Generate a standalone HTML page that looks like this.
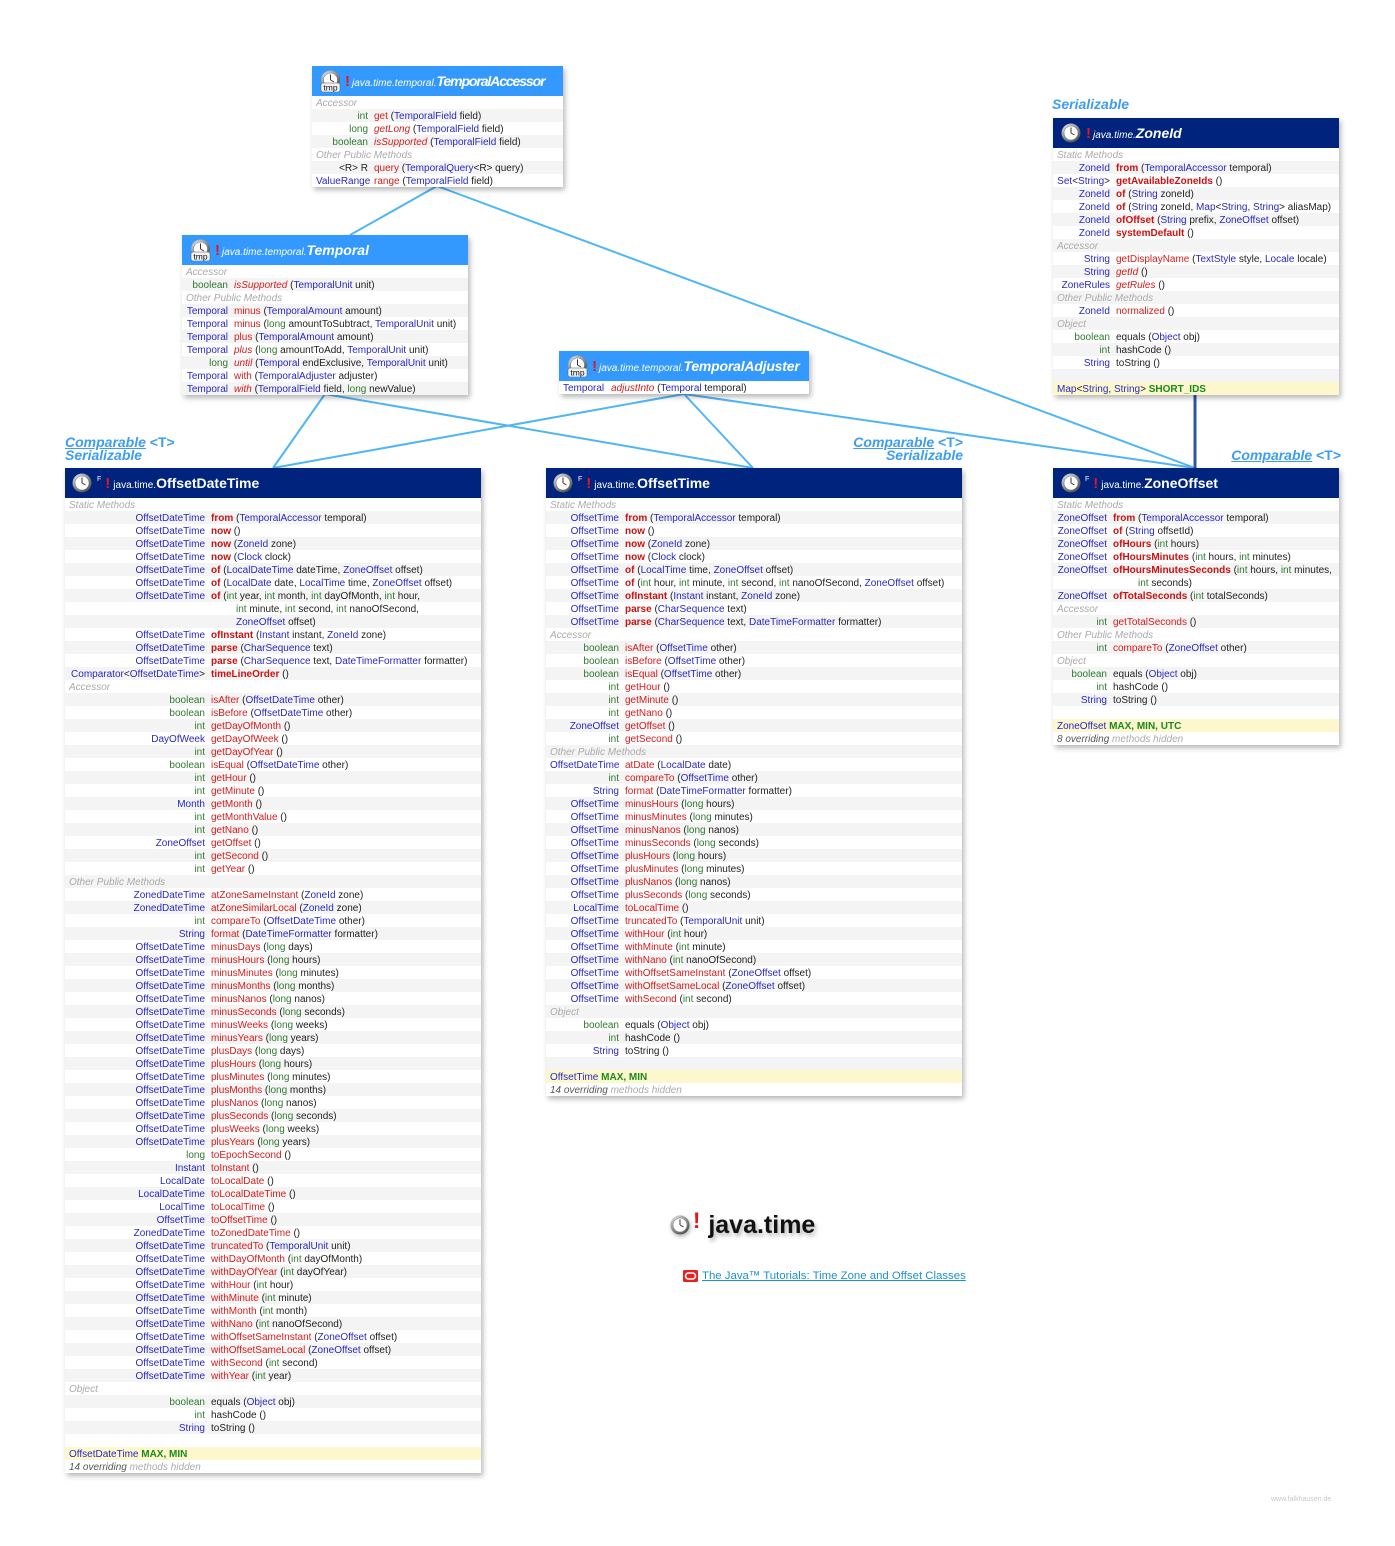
<!DOCTYPE html>
<html><head><meta charset="utf-8">
<style>
html,body{margin:0;padding:0;background:#fff;}
body{width:1395px;height:1546px;position:relative;overflow:hidden;font-family:"Liberation Sans",sans-serif;}
.box{position:absolute;background:#fff;box-shadow:2px 3px 5px rgba(0,0,0,.28);font-size:10px;color:#222;}
.hd{height:30px;display:flex;align-items:center;color:#fff;white-space:nowrap;}
.cls{background:#00247d;}
.itf{background:#3399ff;}
.ic{flex:none;display:block;}
.F{font-size:7px;align-self:flex-start;margin-top:8px;}
.ex{color:#e8141c;font-weight:bold;font-size:15px;}
.tx{display:flex;align-items:baseline;}
.pk{font-size:10px;}
.nm{font-size:14px;font-weight:bold;}
.itf .pk,.itf .nm,.ab .pk,.ab .nm{font-style:italic;}
.bd{background:repeating-linear-gradient(#fff 0 13px,#f4f4f4 13px 26px);}
.r,.l,.fl,.ov{height:13px;line-height:15px;white-space:nowrap;padding-left:4px;overflow:visible;}
.l{color:#aaa;font-style:italic;}
.fl{background:#fcf7cc;}
.ov{font-style:italic;color:#555;}
.ov span{color:#aaa;}
i,b{font-style:normal;font-weight:normal;}
i.t{display:inline-block;text-align:right;margin-right:6px;}
b.y{color:#2828c4;}
b.g{color:#2f7a2f;}
b.s{color:#cc1111;font-weight:bold;}
b.m{color:#d61b1b;}
b.a{color:#d61b1b;font-style:italic;}
b.fg{color:#1c8a1c;font-weight:bold;}
.lab{position:absolute;color:#3d9df0;font-size:14px;font-weight:bold;line-height:13px;white-space:nowrap;}
.lab u{font-style:italic;}
.lab em{font-style:italic;}
.lab span{font-style:normal;}
</style></head><body>
<svg width="0" height="0" style="position:absolute">
<defs>
<radialGradient id="cg" cx="35%" cy="30%" r="75%"><stop offset="0" stop-color="#f0f0f0"/><stop offset="0.6" stop-color="#9a9a9a"/><stop offset="1" stop-color="#4a4a4a"/></radialGradient>
</defs>
</svg>

<svg width="1395" height="1546" style="position:absolute;left:0;top:0">
<g stroke="#4fb6f5" stroke-width="2" fill="none">
<line x1="437" y1="186" x2="350" y2="235"/>
<line x1="437" y1="186" x2="1195" y2="468"/>
<line x1="325" y1="394" x2="273" y2="468"/>
<line x1="325" y1="394" x2="753" y2="468"/>
<line x1="684" y1="394" x2="273" y2="468"/>
<line x1="684" y1="394" x2="753" y2="468"/>
<line x1="684" y1="394" x2="1195" y2="468"/>
</g>
<line x1="1195" y1="394" x2="1195" y2="468" stroke="#2f56a6" stroke-width="3"/>
</svg>

<!-- labels -->
<div class="lab" style="left:1052px;top:98px;"><em>Serializable</em></div>
<div class="lab" style="left:65px;top:436px;"><u>Comparable</u> <span>&lt;T&gt;</span><br><em>Serializable</em></div>
<div class="lab" style="right:432px;top:436px;text-align:right;"><u>Comparable</u> <span>&lt;T&gt;</span><br><em>Serializable</em></div>
<div class="lab" style="right:54px;top:449px;text-align:right;"><u>Comparable</u> <span>&lt;T&gt;</span></div>

<!-- TemporalAccessor -->
<div class="box" style="left:312px;top:66px;width:251px;">
<div class="hd itf">
<svg class="ic" style="margin-left:8px" width="21" height="22" viewBox="0 0 21 22"><circle cx="10.5" cy="10" r="9.5" fill="url(#cg)"/><circle cx="10.5" cy="10" r="7" fill="#fff" stroke="#777" stroke-width=".6"/><path d="M10.5 10V4.5M10.5 10L14 12" stroke="#333" stroke-width="1"/><rect x="1" y="13" width="19" height="9" rx="2" fill="#f2f2f2" stroke="#555" stroke-width=".5"/><text x="10.5" y="20.5" font-size="8.5" font-family="Liberation Sans" text-anchor="middle" fill="#111">tmp</text></svg>
<span class="ex" style="margin-left:4px">!</span>
<span class="tx" style="margin-left:2px"><span class="pk">java.time.temporal.</span><span class="nm" style="letter-spacing:-1.1px">TemporalAccessor</span></span>
</div>
<div class="bd">
<div class="l">Accessor</div>
<div class="r"><i class="t" style="width:52px"><b class="g">int</b></i><b class="m">get</b> (<b class="y">TemporalField</b> field)</div>
<div class="r"><i class="t" style="width:52px"><b class="g">long</b></i><b class="a">getLong</b> (<b class="y">TemporalField</b> field)</div>
<div class="r"><i class="t" style="width:52px"><b class="g">boolean</b></i><b class="a">isSupported</b> (<b class="y">TemporalField</b> field)</div>
<div class="l">Other Public Methods</div>
<div class="r"><i class="t" style="width:52px">&lt;R&gt; R</i><b class="m">query</b> (<b class="y">TemporalQuery</b>&lt;R&gt; query)</div>
<div class="r"><i class="t" style="width:52px"><b class="y">ValueRange</b></i><b class="m">range</b> (<b class="y">TemporalField</b> field)</div>
</div>
</div>

<!-- Temporal -->
<div class="box" style="left:182px;top:235px;width:286px;">
<div class="hd itf">
<svg class="ic" style="margin-left:8px" width="21" height="22" viewBox="0 0 21 22"><circle cx="10.5" cy="10" r="9.5" fill="url(#cg)"/><circle cx="10.5" cy="10" r="7" fill="#fff" stroke="#777" stroke-width=".6"/><path d="M10.5 10V4.5M10.5 10L14 12" stroke="#333" stroke-width="1"/><rect x="1" y="13" width="19" height="9" rx="2" fill="#f2f2f2" stroke="#555" stroke-width=".5"/><text x="10.5" y="20.5" font-size="8.5" font-family="Liberation Sans" text-anchor="middle" fill="#111">tmp</text></svg>
<span class="ex" style="margin-left:4px">!</span>
<span class="tx" style="margin-left:2px"><span class="pk">java.time.temporal.</span><span class="nm">Temporal</span></span>
</div>
<div class="bd">
<div class="l">Accessor</div>
<div class="r"><i class="t" style="width:42px"><b class="g">boolean</b></i><b class="a">isSupported</b> (<b class="y">TemporalUnit</b> unit)</div>
<div class="l">Other Public Methods</div>
<div class="r"><i class="t" style="width:42px"><b class="y">Temporal</b></i><b class="m">minus</b> (<b class="y">TemporalAmount</b> amount)</div>
<div class="r"><i class="t" style="width:42px"><b class="y">Temporal</b></i><b class="m">minus</b> (<b class="g">long</b> amountToSubtract, <b class="y">TemporalUnit</b> unit)</div>
<div class="r"><i class="t" style="width:42px"><b class="y">Temporal</b></i><b class="m">plus</b> (<b class="y">TemporalAmount</b> amount)</div>
<div class="r"><i class="t" style="width:42px"><b class="y">Temporal</b></i><b class="a">plus</b> (<b class="g">long</b> amountToAdd, <b class="y">TemporalUnit</b> unit)</div>
<div class="r"><i class="t" style="width:42px"><b class="g">long</b></i><b class="a">until</b> (<b class="y">Temporal</b> endExclusive, <b class="y">TemporalUnit</b> unit)</div>
<div class="r"><i class="t" style="width:42px"><b class="y">Temporal</b></i><b class="m">with</b> (<b class="y">TemporalAdjuster</b> adjuster)</div>
<div class="r"><i class="t" style="width:42px"><b class="y">Temporal</b></i><b class="a">with</b> (<b class="y">TemporalField</b> field, <b class="g">long</b> newValue)</div>
</div>
</div>

<!-- TemporalAdjuster -->
<div class="box" style="left:559px;top:351px;width:250px;">
<div class="hd itf">
<svg class="ic" style="margin-left:8px" width="21" height="22" viewBox="0 0 21 22"><circle cx="10.5" cy="10" r="9.5" fill="url(#cg)"/><circle cx="10.5" cy="10" r="7" fill="#fff" stroke="#777" stroke-width=".6"/><path d="M10.5 10V4.5M10.5 10L14 12" stroke="#333" stroke-width="1"/><rect x="1" y="13" width="19" height="9" rx="2" fill="#f2f2f2" stroke="#555" stroke-width=".5"/><text x="10.5" y="20.5" font-size="8.5" font-family="Liberation Sans" text-anchor="middle" fill="#111">tmp</text></svg>
<span class="ex" style="margin-left:4px">!</span>
<span class="tx" style="margin-left:2px"><span class="pk">java.time.temporal.</span><span class="nm" style="letter-spacing:-0.2px">TemporalAdjuster</span></span>
</div>
<div style="background:#fff">
<div class="r"><i class="t" style="width:42px;text-align:left"><b class="y">Temporal</b></i><b class="a">adjustInto</b> (<b class="y">Temporal</b> temporal)</div>
</div>
</div>

<!-- ZoneId -->
<div class="box" style="left:1053px;top:118px;width:286px;">
<div class="hd cls ab">
<svg class="ic" style="margin-left:8px" width="20" height="20" viewBox="0 0 20 20"><circle cx="10" cy="10" r="9.5" fill="url(#cg)"/><circle cx="10" cy="10" r="7" fill="#fff" stroke="#777" stroke-width=".6"/><path d="M10 10V4.5M10 10L13.5 12" stroke="#333" stroke-width="1"/></svg>
<span class="ex" style="margin-left:5px">!</span>
<span class="tx" style="margin-left:2px"><span class="pk">java.time.</span><span class="nm">ZoneId</span></span>
</div>
<div class="bd">
<div class="l">Static Methods</div>
<div class="r"><i class="t" style="width:53px"><b class="y">ZoneId</b></i><b class="s">from</b> (<b class="y">TemporalAccessor</b> temporal)</div>
<div class="r"><i class="t" style="width:53px"><b class="y">Set</b>&lt;<b class="y">String</b>&gt;</i><b class="s">getAvailableZoneIds</b> ()</div>
<div class="r"><i class="t" style="width:53px"><b class="y">ZoneId</b></i><b class="s">of</b> (<b class="y">String</b> zoneId)</div>
<div class="r"><i class="t" style="width:53px"><b class="y">ZoneId</b></i><b class="s">of</b> (<b class="y">String</b> zoneId, <b class="y">Map</b>&lt;<b class="y">String</b>, <b class="y">String</b>&gt; aliasMap)</div>
<div class="r"><i class="t" style="width:53px"><b class="y">ZoneId</b></i><b class="s">ofOffset</b> (<b class="y">String</b> prefix, <b class="y">ZoneOffset</b> offset)</div>
<div class="r"><i class="t" style="width:53px"><b class="y">ZoneId</b></i><b class="s">systemDefault</b> ()</div>
<div class="l">Accessor</div>
<div class="r"><i class="t" style="width:53px"><b class="y">String</b></i><b class="m">getDisplayName</b> (<b class="y">TextStyle</b> style, <b class="y">Locale</b> locale)</div>
<div class="r"><i class="t" style="width:53px"><b class="y">String</b></i><b class="a">getId</b> ()</div>
<div class="r"><i class="t" style="width:53px"><b class="y">ZoneRules</b></i><b class="a">getRules</b> ()</div>
<div class="l">Other Public Methods</div>
<div class="r"><i class="t" style="width:53px"><b class="y">ZoneId</b></i><b class="m">normalized</b> ()</div>
<div class="l">Object</div>
<div class="r"><i class="t" style="width:53px"><b class="g">boolean</b></i>equals (<b class="y">Object</b> obj)</div>
<div class="r"><i class="t" style="width:53px"><b class="g">int</b></i>hashCode ()</div>
<div class="r"><i class="t" style="width:53px"><b class="y">String</b></i>toString ()</div>
<div class="r"></div>
<div class="fl"><b class="y">Map</b>&lt;<b class="y">String</b>, <b class="y">String</b>&gt; <b class="fg">SHORT_IDS</b></div>
</div>
</div>

<!-- OffsetDateTime -->
<div class="box" style="left:65px;top:468px;width:416px;">
<div class="hd cls">
<svg class="ic" style="margin-left:7px" width="20" height="20" viewBox="0 0 20 20"><circle cx="10" cy="10" r="9.5" fill="url(#cg)"/><circle cx="10" cy="10" r="7" fill="#fff" stroke="#777" stroke-width=".6"/><path d="M10 10V4.5M10 10L13.5 12" stroke="#333" stroke-width="1"/></svg>
<span class="F" style="margin-left:5px">F</span>
<span class="ex" style="margin-left:4px">!</span>
<span class="tx" style="margin-left:3px"><span class="pk">java.time.</span><span class="nm">OffsetDateTime</span></span>
</div>
<div class="bd">
<div class="l">Static Methods</div>
<div class="r"><i class="t" style="width:136px"><b class="y">OffsetDateTime</b></i><b class="s">from</b> (<b class="y">TemporalAccessor</b> temporal)</div>
<div class="r"><i class="t" style="width:136px"><b class="y">OffsetDateTime</b></i><b class="s">now</b> ()</div>
<div class="r"><i class="t" style="width:136px"><b class="y">OffsetDateTime</b></i><b class="s">now</b> (<b class="y">ZoneId</b> zone)</div>
<div class="r"><i class="t" style="width:136px"><b class="y">OffsetDateTime</b></i><b class="s">now</b> (<b class="y">Clock</b> clock)</div>
<div class="r"><i class="t" style="width:136px"><b class="y">OffsetDateTime</b></i><b class="s">of</b> (<b class="y">LocalDateTime</b> dateTime, <b class="y">ZoneOffset</b> offset)</div>
<div class="r"><i class="t" style="width:136px"><b class="y">OffsetDateTime</b></i><b class="s">of</b> (<b class="y">LocalDate</b> date, <b class="y">LocalTime</b> time, <b class="y">ZoneOffset</b> offset)</div>
<div class="r"><i class="t" style="width:136px"><b class="y">OffsetDateTime</b></i><b class="s">of</b> (<b class="g">int</b> year, <b class="g">int</b> month, <b class="g">int</b> dayOfMonth, <b class="g">int</b> hour,</div>
<div class="r"><i class="t" style="width:136px"></i><span style="padding-left:25px"><b class="g">int</b> minute, <b class="g">int</b> second, <b class="g">int</b> nanoOfSecond,</span></div>
<div class="r"><i class="t" style="width:136px"></i><span style="padding-left:25px"><b class="y">ZoneOffset</b> offset)</span></div>
<div class="r"><i class="t" style="width:136px"><b class="y">OffsetDateTime</b></i><b class="s">ofInstant</b> (<b class="y">Instant</b> instant, <b class="y">ZoneId</b> zone)</div>
<div class="r"><i class="t" style="width:136px"><b class="y">OffsetDateTime</b></i><b class="s">parse</b> (<b class="y">CharSequence</b> text)</div>
<div class="r"><i class="t" style="width:136px"><b class="y">OffsetDateTime</b></i><b class="s">parse</b> (<b class="y">CharSequence</b> text, <b class="y">DateTimeFormatter</b> formatter)</div>
<div class="r"><i class="t" style="width:136px"><b class="y">Comparator</b>&lt;<b class="y">OffsetDateTime</b>&gt;</i><b class="s">timeLineOrder</b> ()</div>
<div class="l">Accessor</div>
<div class="r"><i class="t" style="width:136px"><b class="g">boolean</b></i><b class="m">isAfter</b> (<b class="y">OffsetDateTime</b> other)</div>
<div class="r"><i class="t" style="width:136px"><b class="g">boolean</b></i><b class="m">isBefore</b> (<b class="y">OffsetDateTime</b> other)</div>
<div class="r"><i class="t" style="width:136px"><b class="g">int</b></i><b class="m">getDayOfMonth</b> ()</div>
<div class="r"><i class="t" style="width:136px"><b class="y">DayOfWeek</b></i><b class="m">getDayOfWeek</b> ()</div>
<div class="r"><i class="t" style="width:136px"><b class="g">int</b></i><b class="m">getDayOfYear</b> ()</div>
<div class="r"><i class="t" style="width:136px"><b class="g">boolean</b></i><b class="m">isEqual</b> (<b class="y">OffsetDateTime</b> other)</div>
<div class="r"><i class="t" style="width:136px"><b class="g">int</b></i><b class="m">getHour</b> ()</div>
<div class="r"><i class="t" style="width:136px"><b class="g">int</b></i><b class="m">getMinute</b> ()</div>
<div class="r"><i class="t" style="width:136px"><b class="y">Month</b></i><b class="m">getMonth</b> ()</div>
<div class="r"><i class="t" style="width:136px"><b class="g">int</b></i><b class="m">getMonthValue</b> ()</div>
<div class="r"><i class="t" style="width:136px"><b class="g">int</b></i><b class="m">getNano</b> ()</div>
<div class="r"><i class="t" style="width:136px"><b class="y">ZoneOffset</b></i><b class="m">getOffset</b> ()</div>
<div class="r"><i class="t" style="width:136px"><b class="g">int</b></i><b class="m">getSecond</b> ()</div>
<div class="r"><i class="t" style="width:136px"><b class="g">int</b></i><b class="m">getYear</b> ()</div>
<div class="l">Other Public Methods</div>
<div class="r"><i class="t" style="width:136px"><b class="y">ZonedDateTime</b></i><b class="m">atZoneSameInstant</b> (<b class="y">ZoneId</b> zone)</div>
<div class="r"><i class="t" style="width:136px"><b class="y">ZonedDateTime</b></i><b class="m">atZoneSimilarLocal</b> (<b class="y">ZoneId</b> zone)</div>
<div class="r"><i class="t" style="width:136px"><b class="g">int</b></i><b class="m">compareTo</b> (<b class="y">OffsetDateTime</b> other)</div>
<div class="r"><i class="t" style="width:136px"><b class="y">String</b></i><b class="m">format</b> (<b class="y">DateTimeFormatter</b> formatter)</div>
<div class="r"><i class="t" style="width:136px"><b class="y">OffsetDateTime</b></i><b class="m">minusDays</b> (<b class="g">long</b> days)</div>
<div class="r"><i class="t" style="width:136px"><b class="y">OffsetDateTime</b></i><b class="m">minusHours</b> (<b class="g">long</b> hours)</div>
<div class="r"><i class="t" style="width:136px"><b class="y">OffsetDateTime</b></i><b class="m">minusMinutes</b> (<b class="g">long</b> minutes)</div>
<div class="r"><i class="t" style="width:136px"><b class="y">OffsetDateTime</b></i><b class="m">minusMonths</b> (<b class="g">long</b> months)</div>
<div class="r"><i class="t" style="width:136px"><b class="y">OffsetDateTime</b></i><b class="m">minusNanos</b> (<b class="g">long</b> nanos)</div>
<div class="r"><i class="t" style="width:136px"><b class="y">OffsetDateTime</b></i><b class="m">minusSeconds</b> (<b class="g">long</b> seconds)</div>
<div class="r"><i class="t" style="width:136px"><b class="y">OffsetDateTime</b></i><b class="m">minusWeeks</b> (<b class="g">long</b> weeks)</div>
<div class="r"><i class="t" style="width:136px"><b class="y">OffsetDateTime</b></i><b class="m">minusYears</b> (<b class="g">long</b> years)</div>
<div class="r"><i class="t" style="width:136px"><b class="y">OffsetDateTime</b></i><b class="m">plusDays</b> (<b class="g">long</b> days)</div>
<div class="r"><i class="t" style="width:136px"><b class="y">OffsetDateTime</b></i><b class="m">plusHours</b> (<b class="g">long</b> hours)</div>
<div class="r"><i class="t" style="width:136px"><b class="y">OffsetDateTime</b></i><b class="m">plusMinutes</b> (<b class="g">long</b> minutes)</div>
<div class="r"><i class="t" style="width:136px"><b class="y">OffsetDateTime</b></i><b class="m">plusMonths</b> (<b class="g">long</b> months)</div>
<div class="r"><i class="t" style="width:136px"><b class="y">OffsetDateTime</b></i><b class="m">plusNanos</b> (<b class="g">long</b> nanos)</div>
<div class="r"><i class="t" style="width:136px"><b class="y">OffsetDateTime</b></i><b class="m">plusSeconds</b> (<b class="g">long</b> seconds)</div>
<div class="r"><i class="t" style="width:136px"><b class="y">OffsetDateTime</b></i><b class="m">plusWeeks</b> (<b class="g">long</b> weeks)</div>
<div class="r"><i class="t" style="width:136px"><b class="y">OffsetDateTime</b></i><b class="m">plusYears</b> (<b class="g">long</b> years)</div>
<div class="r"><i class="t" style="width:136px"><b class="g">long</b></i><b class="m">toEpochSecond</b> ()</div>
<div class="r"><i class="t" style="width:136px"><b class="y">Instant</b></i><b class="m">toInstant</b> ()</div>
<div class="r"><i class="t" style="width:136px"><b class="y">LocalDate</b></i><b class="m">toLocalDate</b> ()</div>
<div class="r"><i class="t" style="width:136px"><b class="y">LocalDateTime</b></i><b class="m">toLocalDateTime</b> ()</div>
<div class="r"><i class="t" style="width:136px"><b class="y">LocalTime</b></i><b class="m">toLocalTime</b> ()</div>
<div class="r"><i class="t" style="width:136px"><b class="y">OffsetTime</b></i><b class="m">toOffsetTime</b> ()</div>
<div class="r"><i class="t" style="width:136px"><b class="y">ZonedDateTime</b></i><b class="m">toZonedDateTime</b> ()</div>
<div class="r"><i class="t" style="width:136px"><b class="y">OffsetDateTime</b></i><b class="m">truncatedTo</b> (<b class="y">TemporalUnit</b> unit)</div>
<div class="r"><i class="t" style="width:136px"><b class="y">OffsetDateTime</b></i><b class="m">withDayOfMonth</b> (<b class="g">int</b> dayOfMonth)</div>
<div class="r"><i class="t" style="width:136px"><b class="y">OffsetDateTime</b></i><b class="m">withDayOfYear</b> (<b class="g">int</b> dayOfYear)</div>
<div class="r"><i class="t" style="width:136px"><b class="y">OffsetDateTime</b></i><b class="m">withHour</b> (<b class="g">int</b> hour)</div>
<div class="r"><i class="t" style="width:136px"><b class="y">OffsetDateTime</b></i><b class="m">withMinute</b> (<b class="g">int</b> minute)</div>
<div class="r"><i class="t" style="width:136px"><b class="y">OffsetDateTime</b></i><b class="m">withMonth</b> (<b class="g">int</b> month)</div>
<div class="r"><i class="t" style="width:136px"><b class="y">OffsetDateTime</b></i><b class="m">withNano</b> (<b class="g">int</b> nanoOfSecond)</div>
<div class="r"><i class="t" style="width:136px"><b class="y">OffsetDateTime</b></i><b class="m">withOffsetSameInstant</b> (<b class="y">ZoneOffset</b> offset)</div>
<div class="r"><i class="t" style="width:136px"><b class="y">OffsetDateTime</b></i><b class="m">withOffsetSameLocal</b> (<b class="y">ZoneOffset</b> offset)</div>
<div class="r"><i class="t" style="width:136px"><b class="y">OffsetDateTime</b></i><b class="m">withSecond</b> (<b class="g">int</b> second)</div>
<div class="r"><i class="t" style="width:136px"><b class="y">OffsetDateTime</b></i><b class="m">withYear</b> (<b class="g">int</b> year)</div>
<div class="l">Object</div>
<div class="r"><i class="t" style="width:136px"><b class="g">boolean</b></i>equals (<b class="y">Object</b> obj)</div>
<div class="r"><i class="t" style="width:136px"><b class="g">int</b></i>hashCode ()</div>
<div class="r"><i class="t" style="width:136px"><b class="y">String</b></i>toString ()</div>
<div class="r"></div>
<div class="fl"><b class="y">OffsetDateTime</b> <b class="fg">MAX, MIN</b></div>
<div class="ov" style="background:#fff">14 overriding <span>methods hidden</span></div>
</div>
</div>

<!-- OffsetTime -->
<div class="box" style="left:546px;top:468px;width:416px;">
<div class="hd cls">
<svg class="ic" style="margin-left:7px" width="20" height="20" viewBox="0 0 20 20"><circle cx="10" cy="10" r="9.5" fill="url(#cg)"/><circle cx="10" cy="10" r="7" fill="#fff" stroke="#777" stroke-width=".6"/><path d="M10 10V4.5M10 10L13.5 12" stroke="#333" stroke-width="1"/></svg>
<span class="F" style="margin-left:5px">F</span>
<span class="ex" style="margin-left:4px">!</span>
<span class="tx" style="margin-left:3px"><span class="pk">java.time.</span><span class="nm">OffsetTime</span></span>
</div>
<div class="bd">
<div class="l">Static Methods</div>
<div class="r"><i class="t" style="width:69px"><b class="y">OffsetTime</b></i><b class="s">from</b> (<b class="y">TemporalAccessor</b> temporal)</div>
<div class="r"><i class="t" style="width:69px"><b class="y">OffsetTime</b></i><b class="s">now</b> ()</div>
<div class="r"><i class="t" style="width:69px"><b class="y">OffsetTime</b></i><b class="s">now</b> (<b class="y">ZoneId</b> zone)</div>
<div class="r"><i class="t" style="width:69px"><b class="y">OffsetTime</b></i><b class="s">now</b> (<b class="y">Clock</b> clock)</div>
<div class="r"><i class="t" style="width:69px"><b class="y">OffsetTime</b></i><b class="s">of</b> (<b class="y">LocalTime</b> time, <b class="y">ZoneOffset</b> offset)</div>
<div class="r"><i class="t" style="width:69px"><b class="y">OffsetTime</b></i><b class="s">of</b> (<b class="g">int</b> hour, <b class="g">int</b> minute, <b class="g">int</b> second, <b class="g">int</b> nanoOfSecond, <b class="y">ZoneOffset</b> offset)</div>
<div class="r"><i class="t" style="width:69px"><b class="y">OffsetTime</b></i><b class="s">ofInstant</b> (<b class="y">Instant</b> instant, <b class="y">ZoneId</b> zone)</div>
<div class="r"><i class="t" style="width:69px"><b class="y">OffsetTime</b></i><b class="s">parse</b> (<b class="y">CharSequence</b> text)</div>
<div class="r"><i class="t" style="width:69px"><b class="y">OffsetTime</b></i><b class="s">parse</b> (<b class="y">CharSequence</b> text, <b class="y">DateTimeFormatter</b> formatter)</div>
<div class="l">Accessor</div>
<div class="r"><i class="t" style="width:69px"><b class="g">boolean</b></i><b class="m">isAfter</b> (<b class="y">OffsetTime</b> other)</div>
<div class="r"><i class="t" style="width:69px"><b class="g">boolean</b></i><b class="m">isBefore</b> (<b class="y">OffsetTime</b> other)</div>
<div class="r"><i class="t" style="width:69px"><b class="g">boolean</b></i><b class="m">isEqual</b> (<b class="y">OffsetTime</b> other)</div>
<div class="r"><i class="t" style="width:69px"><b class="g">int</b></i><b class="m">getHour</b> ()</div>
<div class="r"><i class="t" style="width:69px"><b class="g">int</b></i><b class="m">getMinute</b> ()</div>
<div class="r"><i class="t" style="width:69px"><b class="g">int</b></i><b class="m">getNano</b> ()</div>
<div class="r"><i class="t" style="width:69px"><b class="y">ZoneOffset</b></i><b class="m">getOffset</b> ()</div>
<div class="r"><i class="t" style="width:69px"><b class="g">int</b></i><b class="m">getSecond</b> ()</div>
<div class="l">Other Public Methods</div>
<div class="r"><i class="t" style="width:69px"><b class="y">OffsetDateTime</b></i><b class="m">atDate</b> (<b class="y">LocalDate</b> date)</div>
<div class="r"><i class="t" style="width:69px"><b class="g">int</b></i><b class="m">compareTo</b> (<b class="y">OffsetTime</b> other)</div>
<div class="r"><i class="t" style="width:69px"><b class="y">String</b></i><b class="m">format</b> (<b class="y">DateTimeFormatter</b> formatter)</div>
<div class="r"><i class="t" style="width:69px"><b class="y">OffsetTime</b></i><b class="m">minusHours</b> (<b class="g">long</b> hours)</div>
<div class="r"><i class="t" style="width:69px"><b class="y">OffsetTime</b></i><b class="m">minusMinutes</b> (<b class="g">long</b> minutes)</div>
<div class="r"><i class="t" style="width:69px"><b class="y">OffsetTime</b></i><b class="m">minusNanos</b> (<b class="g">long</b> nanos)</div>
<div class="r"><i class="t" style="width:69px"><b class="y">OffsetTime</b></i><b class="m">minusSeconds</b> (<b class="g">long</b> seconds)</div>
<div class="r"><i class="t" style="width:69px"><b class="y">OffsetTime</b></i><b class="m">plusHours</b> (<b class="g">long</b> hours)</div>
<div class="r"><i class="t" style="width:69px"><b class="y">OffsetTime</b></i><b class="m">plusMinutes</b> (<b class="g">long</b> minutes)</div>
<div class="r"><i class="t" style="width:69px"><b class="y">OffsetTime</b></i><b class="m">plusNanos</b> (<b class="g">long</b> nanos)</div>
<div class="r"><i class="t" style="width:69px"><b class="y">OffsetTime</b></i><b class="m">plusSeconds</b> (<b class="g">long</b> seconds)</div>
<div class="r"><i class="t" style="width:69px"><b class="y">LocalTime</b></i><b class="m">toLocalTime</b> ()</div>
<div class="r"><i class="t" style="width:69px"><b class="y">OffsetTime</b></i><b class="m">truncatedTo</b> (<b class="y">TemporalUnit</b> unit)</div>
<div class="r"><i class="t" style="width:69px"><b class="y">OffsetTime</b></i><b class="m">withHour</b> (<b class="g">int</b> hour)</div>
<div class="r"><i class="t" style="width:69px"><b class="y">OffsetTime</b></i><b class="m">withMinute</b> (<b class="g">int</b> minute)</div>
<div class="r"><i class="t" style="width:69px"><b class="y">OffsetTime</b></i><b class="m">withNano</b> (<b class="g">int</b> nanoOfSecond)</div>
<div class="r"><i class="t" style="width:69px"><b class="y">OffsetTime</b></i><b class="m">withOffsetSameInstant</b> (<b class="y">ZoneOffset</b> offset)</div>
<div class="r"><i class="t" style="width:69px"><b class="y">OffsetTime</b></i><b class="m">withOffsetSameLocal</b> (<b class="y">ZoneOffset</b> offset)</div>
<div class="r"><i class="t" style="width:69px"><b class="y">OffsetTime</b></i><b class="m">withSecond</b> (<b class="g">int</b> second)</div>
<div class="l">Object</div>
<div class="r"><i class="t" style="width:69px"><b class="g">boolean</b></i>equals (<b class="y">Object</b> obj)</div>
<div class="r"><i class="t" style="width:69px"><b class="g">int</b></i>hashCode ()</div>
<div class="r"><i class="t" style="width:69px"><b class="y">String</b></i>toString ()</div>
<div class="r"></div>
<div class="fl"><b class="y">OffsetTime</b> <b class="fg">MAX, MIN</b></div>
<div class="ov" style="background:#fff">14 overriding <span>methods hidden</span></div>
</div>
</div>

<!-- ZoneOffset -->
<div class="box" style="left:1053px;top:468px;width:286px;">
<div class="hd cls">
<svg class="ic" style="margin-left:8px" width="20" height="20" viewBox="0 0 20 20"><circle cx="10" cy="10" r="9.5" fill="url(#cg)"/><circle cx="10" cy="10" r="7" fill="#fff" stroke="#777" stroke-width=".6"/><path d="M10 10V4.5M10 10L13.5 12" stroke="#333" stroke-width="1"/></svg>
<span class="F" style="margin-left:4px">F</span>
<span class="ex" style="margin-left:4px">!</span>
<span class="tx" style="margin-left:3px"><span class="pk">java.time.</span><span class="nm">ZoneOffset</span></span>
</div>
<div class="bd">
<div class="l">Static Methods</div>
<div class="r"><i class="t" style="width:50px"><b class="y">ZoneOffset</b></i><b class="s">from</b> (<b class="y">TemporalAccessor</b> temporal)</div>
<div class="r"><i class="t" style="width:50px"><b class="y">ZoneOffset</b></i><b class="s">of</b> (<b class="y">String</b> offsetId)</div>
<div class="r"><i class="t" style="width:50px"><b class="y">ZoneOffset</b></i><b class="s">ofHours</b> (<b class="g">int</b> hours)</div>
<div class="r"><i class="t" style="width:50px"><b class="y">ZoneOffset</b></i><b class="s">ofHoursMinutes</b> (<b class="g">int</b> hours, <b class="g">int</b> minutes)</div>
<div class="r"><i class="t" style="width:50px"><b class="y">ZoneOffset</b></i><b class="s">ofHoursMinutesSeconds</b> (<b class="g">int</b> hours, <b class="g">int</b> minutes,</div>
<div class="r"><i class="t" style="width:50px"></i><span style="padding-left:25px"><b class="g">int</b> seconds)</span></div>
<div class="r"><i class="t" style="width:50px"><b class="y">ZoneOffset</b></i><b class="s">ofTotalSeconds</b> (<b class="g">int</b> totalSeconds)</div>
<div class="l">Accessor</div>
<div class="r"><i class="t" style="width:50px"><b class="g">int</b></i><b class="m">getTotalSeconds</b> ()</div>
<div class="l">Other Public Methods</div>
<div class="r"><i class="t" style="width:50px"><b class="g">int</b></i><b class="m">compareTo</b> (<b class="y">ZoneOffset</b> other)</div>
<div class="l">Object</div>
<div class="r"><i class="t" style="width:50px"><b class="g">boolean</b></i>equals (<b class="y">Object</b> obj)</div>
<div class="r"><i class="t" style="width:50px"><b class="g">int</b></i>hashCode ()</div>
<div class="r"><i class="t" style="width:50px"><b class="y">String</b></i>toString ()</div>
<div class="r"></div>
<div class="fl"><b class="y">ZoneOffset</b> <b class="fg">MAX, MIN, UTC</b></div>
<div class="ov" style="background:#fff">8 overriding <span>methods hidden</span></div>
</div>
</div>

<!-- package title -->
<div style="position:absolute;left:670px;top:1208px;height:34px;display:flex;align-items:center;white-space:nowrap;">
<svg width="20" height="20" viewBox="0 0 20 20" style="display:block;filter:drop-shadow(1px 2px 2px rgba(0,0,0,.3))"><circle cx="10" cy="10" r="9.5" fill="url(#cg)"/><circle cx="10" cy="10" r="7" fill="#fff" stroke="#777" stroke-width=".6"/><path d="M10 10V4.5M10 10L13.5 12" stroke="#333" stroke-width="1"/></svg>
<span style="color:#e8141c;font-weight:bold;font-size:22px;margin-left:3px;margin-top:-8px;">!</span>
<span style="font-size:25px;font-weight:bold;color:#111;margin-left:8px;text-shadow:2px 3px 4px rgba(0,0,0,.3);">java.time</span>
</div>

<div style="position:absolute;left:683px;top:1268px;height:16px;display:flex;align-items:center;white-space:nowrap;">
<svg width="15" height="12" viewBox="0 0 15 12" style="display:block"><rect x="0" y="0" width="15" height="12" rx="1.5" fill="#e8201f"/><rect x="2.5" y="3" width="10" height="6" rx="3" fill="none" stroke="#fff" stroke-width="1.6"/></svg>
<span style="margin-left:4px;font-size:11.4px;color:#1e8fd0;text-decoration:underline;">The Java™ Tutorials: Time Zone and Offset Classes</span>
</div>

<div style="position:absolute;left:1271px;top:1496px;font-size:7px;color:#c8c8c8;white-space:nowrap;">www.falkhausen.de</div>

</body></html>
